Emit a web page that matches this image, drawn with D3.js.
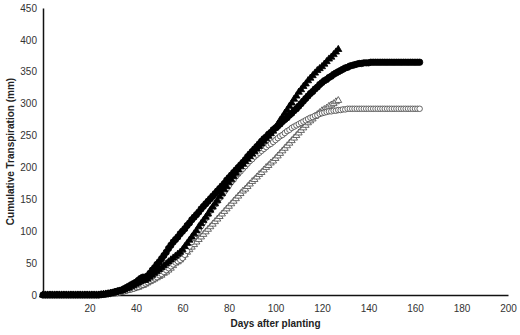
<!DOCTYPE html>
<html>
<head>
<meta charset="utf-8">
<script src="https://cdn.jsdelivr.net/npm/d3@7"></script>
<style>
  body { margin: 0; background: #fff; }
  svg { display: block; font-family: "Liberation Sans", Arial, sans-serif; }
</style>
</head>
<body>
<div id="main"></div>
<script>
const width = 520;
const height = 335;

// daily cumulative transpiration (mm), day 0 onwards
const filledCircles = [
  0,0,0,0,0,0,0,0,0,0,0,0,0,0,0,0,0,0,0,0,0,0,0,0,0,
  0.5,1,1.5,2,3,4,5,6,7,8,10,12,14,16,18,20,23,26,28,28,
  30,34,39,43,48,52,57,62,67,73,78,83,87,91,96,100,104,109,113,118,
  122,126,130,135,139,143,147,151,155,159,163,167,171,175,180,184,188,192,196,200,
  204,208,212,217,221,225,229,233,237,241,245,248,252,255,259,262,265,268,272,275,
  278,282,285,289,292,296,300,304,308,312,316,319,323,326,330,333,336,338,341,343,
  346,348,350,352,354,356,357,359,360,361,362,363,363,364,364,364,
  365,365,365,365,365,365,365,365,365,365,365,365,365,365,365,365,365,365,365,365,365,365
];
const filledTriangles = [
  0,0,0,0,0,0,0,0,0,0,0,0,0,0,0,0,0,0,0,0,0,0,0,0,0,
  0.5,1,1.5,2,2.5,3,4,5,6,7,8,10,11,13,15,17,19,21,23,23,
  25,28,31,34,37,40,43,46,49,52,55,58,61,64,67,71,76,81,86,91,
  96,101,107,112,117,122,127,133,138,143,148,154,159,165,170,176,181,186,191,196,
  201,205,209,213,217,221,225,229,233,237,241,245,249,253,257,262,268,274,279,285,
  290,296,301,307,312,318,322,327,331,336,340,344,348,352,355,358,362,366,370,373,
  377,381,385
];
const openCircles = [
  0,0,0,0,0,0,0,0,0,0,0,0,0,0,0,0,0,0,0,0,0,0,0,0,0,
  0.3,0.6,1,1.3,1.6,2,2.5,3,4,5,6,7,8,9,10,12,13,15,16,18,
  20,22,24,26,28,31,33,36,39,42,45,48,51,53,55,58,63,69,76,83,
  90,96,102,108,114,120,126,132,137,142,147,152,157,162,167,172,177,181,186,190,
  194,198,202,206,210,213,217,220,223,226,229,232,235,237,240,243,246,249,251,254,
  257,259,262,264,266,268,270,272,274,276,278,279,281,282,284,285,286,287,288,288,
  289,289,290,290,291,291,
  292,292,292,292,292,292,292,292,292,292,292,292,292,292,292,292,
  292,292,292,292,292,292,292,292,292,292,292,292,292,292,292,292
];
const openTriangles = [
  0,0,0,0,0,0,0,0,0,0,0,0,0,0,0,0,0,0,0,0,0,0,0,0,0,
  0.3,0.6,1,1.3,1.6,2,2.5,3,4,5,6,7,8,9,10,11,12,14,15,17,
  19,21,23,25,27,29,31,34,36,39,42,46,50,52,55,59,63,67,71,75,
  79,83,87,91,95,99,103,107,111,115,119,123,127,131,135,139,143,147,151,155,
  159,163,166,170,174,178,181,185,189,192,196,200,203,207,210,214,218,222,226,230,
  234,238,242,246,250,254,258,262,266,270,273,276,280,283,286,289,291,293,296,298,
  300,303,305
];

const xTicks = [20, 40, 60, 80, 100, 120, 140, 160, 180, 200];
const yTicks = [0, 50, 100, 150, 200, 250, 300, 350, 400, 450];

const x = d3.scaleLinear().domain([0, 200]).range([43, 508]);
const y = d3.scaleLinear().domain([0, 450]).range([295, 8]);

const svg = d3.select("#main").append("svg")
  .attr("width", width)
  .attr("height", height);

// axes
const xAxis = svg.append("g")
  .attr("transform", `translate(0,${y(0)})`)
  .call(d3.axisBottom(x).tickValues(xTicks).tickSize(0).tickPadding(10));
const yAxis = svg.append("g")
  .attr("transform", `translate(${x(0)},0)`)
  .call(d3.axisLeft(y).tickValues(yTicks).tickSize(0).tickPadding(6));

[xAxis, yAxis].forEach(g => {
  g.select(".domain").attr("stroke", "#111").attr("stroke-width", 1.5);
  g.selectAll("text").attr("fill", "#333").style("font-size", "10px");
});

svg.append("text")
  .attr("x", (x(0) + x(200)) / 2)
  .attr("y", 327)
  .attr("text-anchor", "middle")
  .style("font-size", "10px")
  .style("font-weight", "bold")
  .attr("fill", "#222")
  .text("Days after planting");

svg.append("text")
  .attr("transform", `translate(14,${(y(0) + y(450)) / 2}) rotate(-90)`)
  .attr("text-anchor", "middle")
  .style("font-size", "10px")
  .style("font-weight", "bold")
  .attr("fill", "#222")
  .text("Cumulative Transpiration (mm)");

// series: open ones first so the black marks sit on top
const series = [
  { values: openTriangles, type: d3.symbolTriangle, size: 20, fill: "#fff", stroke: "#444" },
  { values: openCircles, type: d3.symbolCircle, size: 24, fill: "#fff", stroke: "#444" },
  { values: filledTriangles, type: d3.symbolTriangle, size: 22, fill: "#000", stroke: "#000" },
  { values: filledCircles, type: d3.symbolCircle, size: 32, fill: "#000", stroke: "#000" }
];

series.forEach(s => {
  const sym = d3.symbol().type(s.type).size(s.size);
  svg.append("g")
    .selectAll("path")
    .data(s.values)
    .join("path")
    .attr("d", sym)
    .attr("transform", (d, i) => `translate(${x(i)},${y(d)})`)
    .attr("fill", s.fill)
    .attr("stroke", s.stroke)
    .attr("stroke-width", 0.8);
});
</script>
</body>
</html>
